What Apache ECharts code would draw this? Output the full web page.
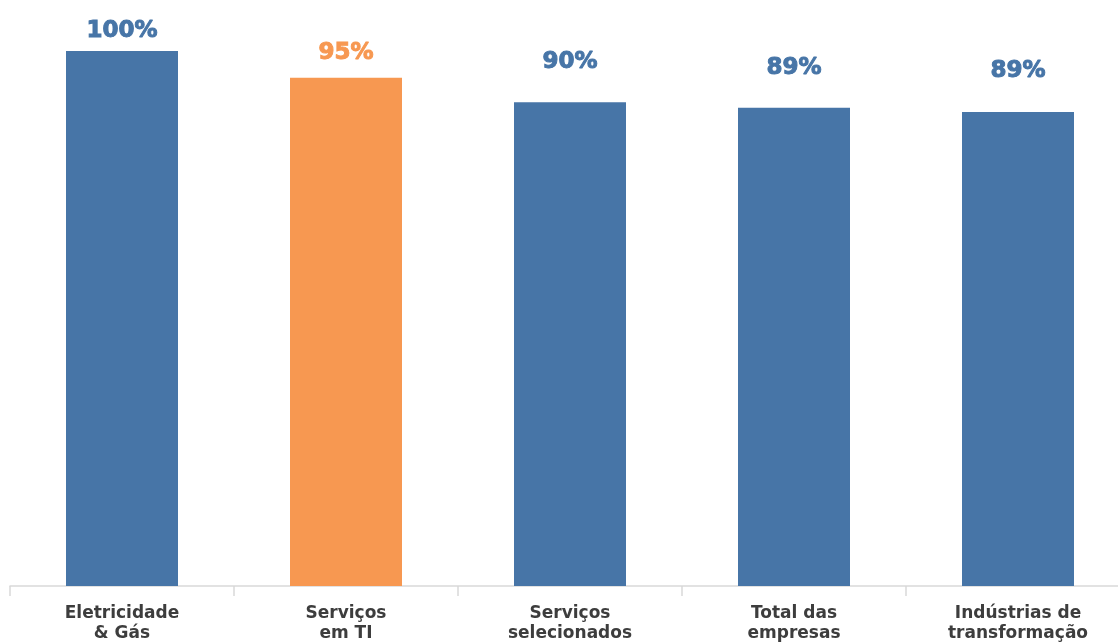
<!DOCTYPE html>
<html>
<head>
<meta charset="utf-8">
<script src="https://cdn.jsdelivr.net/npm/echarts@6/dist/echarts.min.js"></script>
<style>html,body{margin:0;padding:0;background:#fff;overflow:hidden;width:1118px;height:644px;}#c{width:1130px;height:644px;}</style>
</head>
<body>
<div id="c"></div>
<script>
const categories = ["Eletricidade\n& Gás", "Serviços\nem TI", "Serviços\nselecionados", "Total das\nempresas", "Indústrias de\ntransformação"];
const values = [100, 95.0, 90.4, 89.4, 88.6];
const highlightIndex = 1;

const BLUE = "#4775a7";
const ORANGE = "#f79851";
const labelDistances = [8, 13, 29, 28, 29];

const chart = echarts.init(document.getElementById('c'), null, {renderer: 'canvas'});
chart.setOption({
  animation: false,
  grid: {left: 10, top: 51, right: 0, bottom: 57, containLabel: false},
  xAxis: {
    type: 'category',
    data: categories,
    axisLine: {lineStyle: {color: '#d9d9d9', width: 1.5}},
    axisTick: {show: true, length: 10, lineStyle: {color: '#d9d9d9', width: 1.5}},
    axisLabel: {
      interval: 0, margin: 18,
      fontFamily: 'DejaVu Sans', fontWeight: 'bold', fontSize: 17, lineHeight: 20,
      color: '#3d3d3d'
    }
  },
  yAxis: {type: 'value', min: 0, max: 100, show: false, splitLine: {show: false}},
  series: [{
    type: 'bar',
    barWidth: '50%',
    data: values.map((v, i) => ({
      value: v,
      itemStyle: {color: i === highlightIndex ? ORANGE : BLUE},
      label: {
        show: true, position: 'top', distance: labelDistances[i],
        color: i === highlightIndex ? ORANGE : BLUE,
        textBorderColor: i === highlightIndex ? ORANGE : BLUE,
        textBorderWidth: 1
      }
    })),
    label: {
      show: true, position: 'top',
      fontFamily: 'DejaVu Sans', fontWeight: 'bold', fontSize: 23,
      formatter: p => Math.round(p.value) + '%'
    }
  }]
});
</script>
</body>
</html>
